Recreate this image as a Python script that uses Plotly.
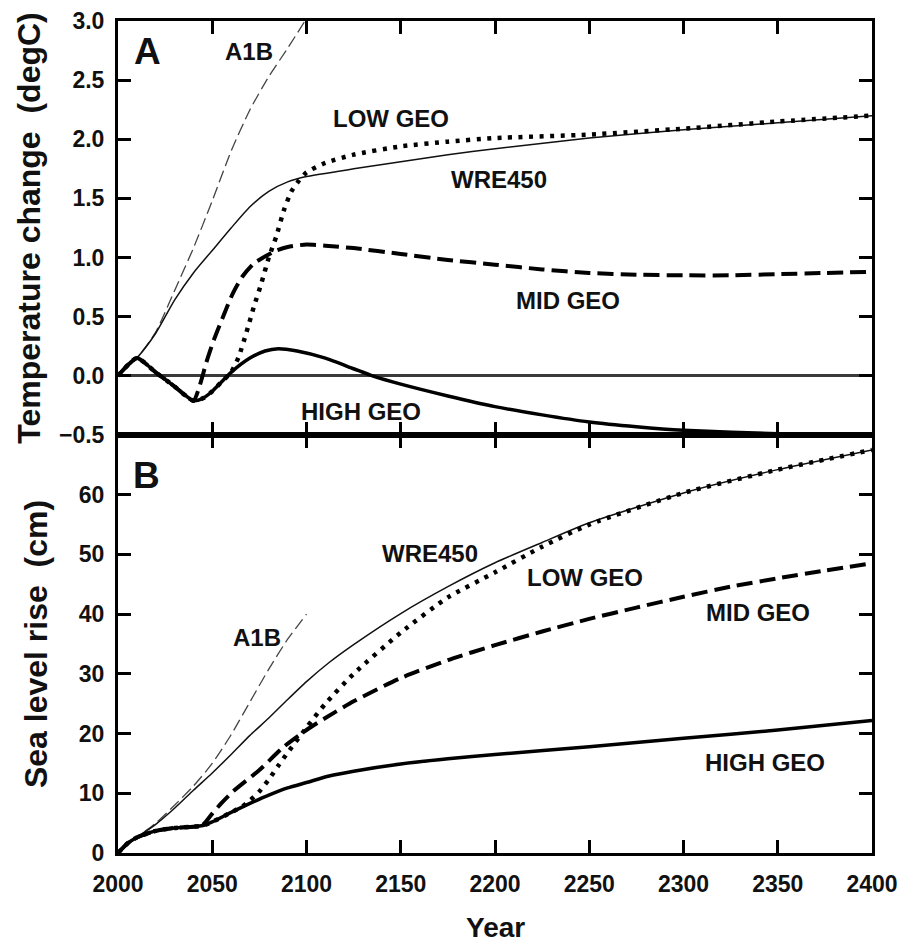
import plotly.graph_objects as go
from plotly.subplots import make_subplots

# ---------------- Panel A: temperature change (degC) ----------------
a1b_t_years = [2000, 2010, 2020, 2030, 2040, 2050, 2060, 2070, 2080, 2090, 2100]
a1b_t = [0.0, 0.15, 0.37, 0.72, 1.08, 1.48, 1.90, 2.25, 2.53, 2.77, 3.02]

wre_t_years = [2000, 2010, 2020, 2030, 2040, 2050, 2060, 2070, 2080, 2090, 2100, 2125, 2150,
               2175, 2200, 2250, 2300, 2350, 2400]
wre_t = [0.0, 0.15, 0.36, 0.64, 0.87, 1.06, 1.25, 1.43, 1.56, 1.64, 1.685, 1.75, 1.81,
         1.87, 1.92, 2.01, 2.08, 2.14, 2.20]

high_t_years = [2000, 2010, 2020, 2030, 2040, 2045, 2050, 2055, 2060, 2070, 2078, 2085, 2095,
                2110, 2125, 2135, 2150, 2175, 2200, 2225, 2250, 2275, 2300, 2350, 2400]
high_t = [0.0, 0.15, 0.03, -0.09, -0.21, -0.19, -0.13, -0.05, 0.03, 0.15, 0.21, 0.23, 0.21,
          0.15, 0.06, 0.0, -0.07, -0.17, -0.26, -0.33, -0.39, -0.43, -0.46, -0.49, -0.50]

mid_t_years = [2000, 2010, 2020, 2030, 2040, 2043, 2047, 2051, 2056, 2061, 2066, 2072, 2077,
               2084, 2090, 2100, 2110, 2125, 2150, 2175, 2200, 2225, 2250, 2275, 2300, 2325,
               2350, 2375, 2400]
mid_t = [0.0, 0.15, 0.03, -0.09, -0.21, -0.10, 0.12, 0.31, 0.51, 0.70, 0.84, 0.95, 1.00,
         1.06, 1.09, 1.11, 1.10, 1.08, 1.03, 0.98, 0.94, 0.90, 0.87, 0.855, 0.85, 0.85,
         0.86, 0.87, 0.88]

low_t_years = [2000, 2010, 2020, 2030, 2040, 2045, 2050, 2055, 2060, 2064, 2068, 2072, 2076,
               2080, 2084, 2088, 2092, 2096, 2100, 2110, 2125, 2150, 2175, 2200, 2250, 2300,
               2350, 2400]
low_t = [0.0, 0.15, 0.03, -0.09, -0.21, -0.19, -0.13, -0.05, 0.03, 0.16, 0.36, 0.58, 0.78,
         1.00, 1.18, 1.40, 1.56, 1.65, 1.72, 1.80, 1.87, 1.94, 1.98, 2.01, 2.04, 2.09,
         2.15, 2.20]

# ---------------- Panel B: sea level rise (cm) ----------------
a1b_s_years = [2000, 2010, 2020, 2030, 2040, 2050, 2060, 2070, 2080, 2090, 2100]
a1b_s = [0.0, 2.6, 5.0, 8.0, 11.2, 15.0, 19.8, 25.3, 30.8, 35.8, 40.0]

wre_s_years = [2000, 2010, 2020, 2030, 2040, 2050, 2060, 2070, 2080, 2090, 2100, 2112, 2125,
               2150, 2175, 2200, 2225, 2250, 2300, 2350, 2400]
wre_s = [0.0, 2.6, 4.8, 7.5, 10.5, 13.4, 16.5, 19.7, 22.6, 25.7, 28.7, 31.9, 34.9,
         40.1, 44.6, 48.6, 52.0, 55.3, 60.3, 64.2, 67.5]

high_s_years = [2000, 2005, 2010, 2020, 2030, 2040, 2045, 2050, 2060, 2070, 2080, 2090, 2100,
                2112, 2125, 2150, 2175, 2200, 2250, 2300, 2350, 2400]
high_s = [0.0, 1.6, 2.6, 3.7, 4.2, 4.4, 4.6, 5.2, 6.8, 8.3, 9.7, 10.9, 11.8,
          12.9, 13.7, 14.9, 15.8, 16.5, 17.8, 19.2, 20.6, 22.2]

mid_s_years = [2000, 2005, 2010, 2020, 2030, 2040, 2045, 2050, 2055, 2061, 2075, 2088, 2100,
               2110, 2125, 2150, 2175, 2200, 2225, 2250, 2275, 2300, 2325, 2350, 2375, 2400]
mid_s = [0.0, 1.6, 2.6, 3.7, 4.2, 4.4, 4.7, 6.6, 8.4, 10.3, 13.9, 17.8, 20.6,
         22.6, 25.4, 29.3, 32.3, 34.8, 37.1, 39.2, 41.1, 42.9, 44.6, 46.0, 47.3, 48.5]

low_s_years = [2000, 2005, 2010, 2020, 2030, 2040, 2045, 2050, 2060, 2066, 2070, 2075, 2080,
               2085, 2090, 2100, 2110, 2125, 2150, 2175, 2200, 2225, 2250, 2300, 2350, 2400]
low_s = [0.0, 1.6, 2.6, 3.7, 4.2, 4.4, 4.6, 5.2, 6.8, 7.8, 8.8, 10.3, 12.3,
         14.6, 16.8, 21.0, 25.0, 30.0, 36.9, 42.8, 47.0, 51.3, 55.0, 60.3, 64.2, 67.5]

x_ticks = [2000, 2050, 2100, 2150, 2200, 2250, 2300, 2350, 2400]
temp_ticks = [-0.5, 0.0, 0.5, 1.0, 1.5, 2.0, 2.5, 3.0]
sea_ticks = [0, 10, 20, 30, 40, 50, 60]

FONT = "Liberation Sans, Arial, Helvetica, sans-serif"

fig = make_subplots(rows=2, cols=1, shared_xaxes=True, vertical_spacing=0,
                    row_heights=[0.4976, 0.5024])

styles = {
    "A1B": dict(color="#444444", width=1.3, dash="12px,5px"),
    "WRE450": dict(color="#111111", width=1.5),
    "HIGH GEO": dict(color="#000000", width=3.5),
    "MID GEO": dict(color="#000000", width=4, dash="16px,7px"),
    "LOW GEO": dict(color="#000000", width=4.5, dash="4px,6.5px"),
}

series_a = [("A1B", a1b_t_years, a1b_t), ("WRE450", wre_t_years, wre_t),
            ("MID GEO", mid_t_years, mid_t), ("LOW GEO", low_t_years, low_t),
            ("HIGH GEO", high_t_years, high_t)]
series_b = [("A1B", a1b_s_years, a1b_s), ("WRE450", wre_s_years, wre_s),
            ("MID GEO", mid_s_years, mid_s), ("LOW GEO", low_s_years, low_s),
            ("HIGH GEO", high_s_years, high_s)]

for name, xs, ys in series_a:
    fig.add_trace(go.Scatter(x=xs, y=ys, mode="lines", name=name, showlegend=False,
                             line=dict(shape="spline", smoothing=0.6, **styles[name])),
                  row=1, col=1)
for name, xs, ys in series_b:
    fig.add_trace(go.Scatter(x=xs, y=ys, mode="lines", name=name, showlegend=False,
                             line=dict(shape="spline", smoothing=0.6, **styles[name])),
                  row=2, col=1)

axis_common = dict(showline=True, linecolor="black", linewidth=3, mirror="ticks",
                   ticks="inside", ticklen=13, tickwidth=2.5, tickcolor="black",
                   showgrid=False, zeroline=False,
                   tickfont=dict(family=FONT, size=23, color="#111111", weight="bold"))

fig.update_xaxes(range=[2000, 2400], tickvals=x_ticks, **axis_common)
fig.update_xaxes(showticklabels=True, ticklabelstandoff=8, row=2, col=1)
fig.update_xaxes(showticklabels=False, row=1, col=1)

fig.update_yaxes(range=[-0.5, 3.0], tickvals=temp_ticks, tickformat=".1f",
                 ticklabelstandoff=6,
                 title=dict(text="Temperature change  (degC)", standoff=9,
                            font=dict(family=FONT, size=32, color="#111111", weight="bold")),
                 row=1, col=1, **axis_common)
fig.update_yaxes(zeroline=True, zerolinecolor="#3a3a3a", zerolinewidth=3, row=1, col=1)
fig.update_yaxes(range=[0, 70], tickvals=sea_ticks, ticklabelstandoff=6,
                 title=dict(text="Sea level rise  (cm)", standoff=22,
                            font=dict(family=FONT, size=32, color="#111111", weight="bold")),
                 row=2, col=1, **axis_common)

lab_font = dict(family=FONT, size=24, color="#111111", weight="bold")
big_font = dict(family=FONT, size=37, color="#111111", weight="bold")

labels_a = [("A1B", 2069.5, 2.74), ("LOW GEO", 2145, 2.18), ("WRE450", 2202, 1.66),
            ("MID GEO", 2238.5, 0.64), ("HIGH GEO", 2129, -0.30)]
labels_b = [("A1B", 2074, 36.1), ("WRE450", 2165.5, 50.1), ("LOW GEO", 2247.7, 46.1),
            ("MID GEO", 2339.5, 40.2), ("HIGH GEO", 2343, 15.1)]

for text, x, y in labels_a:
    fig.add_annotation(x=x, y=y, xref="x", yref="y", text=text, showarrow=False, font=lab_font)
for text, x, y in labels_b:
    fig.add_annotation(x=x, y=y, xref="x2", yref="y2", text=text, showarrow=False, font=lab_font)
fig.add_annotation(x=2015.4, y=2.74, xref="x", yref="y", text="A", showarrow=False, font=big_font)
fig.add_annotation(x=2015.2, y=63.3, xref="x2", yref="y2", text="B", showarrow=False, font=big_font)

# x-axis title placed below the tick labels
fig.add_annotation(x=0.5, y=-0.089, xref="paper", yref="paper", text="Year", showarrow=False,
                   xanchor="center", yanchor="middle",
                   font=dict(family=FONT, size=28, color="#111111", weight="bold"))

# page body has an 8px margin: offset the figure so the plot area matches the reference
fig.update_layout(width=904, height=936, paper_bgcolor="white", plot_bgcolor="white",
                  margin=dict(l=110, r=40, t=13, b=91, autoexpand=False),
                  font=dict(family=FONT))

fig.write_html("out.html")
